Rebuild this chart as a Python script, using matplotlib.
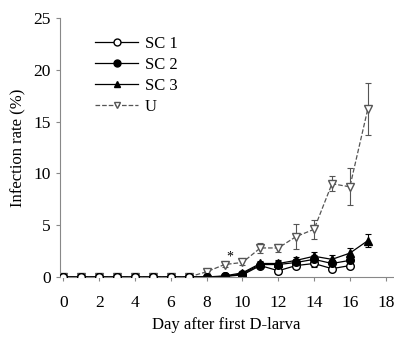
import matplotlib
matplotlib.use("Agg")
import matplotlib.pyplot as plt
from matplotlib.lines import Line2D

days = list(range(0, 18))
days_sc = list(range(0, 17))

sc1 = [0, 0, 0, 0, 0, 0, 0, 0, 0, 0.05, 0.2, 1.1, 0.6, 1.1, 1.3, 0.8, 1.1]
sc1_err = [0, 0, 0, 0, 0, 0, 0, 0, 0, 0, 0.1, 0.2, 0.3, 0.2, 0.3, 0.2, 0.2]
sc2 = [0, 0, 0, 0, 0, 0, 0, 0, 0, 0.05, 0.3, 1.2, 1.2, 1.4, 1.7, 1.3, 1.6]
sc2_err = [0, 0, 0, 0, 0, 0, 0, 0, 0, 0, 0.1, 0.2, 0.3, 0.3, 0.4, 0.3, 0.3]
sc3 = [0, 0, 0, 0, 0, 0, 0, 0, 0, 0.1, 0.4, 1.3, 1.3, 1.6, 2.0, 1.7, 2.3, 3.5]
sc3_err = [0, 0, 0, 0, 0, 0, 0, 0, 0, 0, 0.1, 0.2, 0.3, 0.3, 0.4, 0.4, 0.5, 0.6]
u = [0, 0, 0, 0, 0, 0, 0, 0, 0.5, 1.2, 1.4, 2.8, 2.8, 3.9, 4.6, 9.0, 8.7, 16.2]
u_err = [0, 0, 0, 0, 0, 0, 0, 0, 0.1, 0.2, 0.2, 0.5, 0.4, 1.2, 0.9, 0.7, 1.8, 2.5]

star_day, star_y = 9.3, 1.9

plt.rcParams["font.family"] = ["Liberation Serif", "DejaVu Serif"]

fig = plt.figure(figsize=(3.94, 3.39), dpi=100)
ax = fig.add_axes([0.152, 0.183, 0.845, 0.764])

grey = "#555555"
common = dict(ms=5.5, lw=0.9, capsize=2.5, elinewidth=0.8, capthick=0.8)
ax.errorbar(days, u, yerr=u_err, fmt="--v", mfc="white", mec=grey, color=grey, **common)
ax.errorbar(days, sc3, yerr=sc3_err, fmt="-^", mfc="black", color="black", **common)
ax.errorbar(days_sc, sc2, yerr=sc2_err, fmt="-o", mfc="black", color="black", **common)
ax.errorbar(days_sc[:8], sc1[:8], fmt="-o", mfc="white", color="black", zorder=4, ms=5.5, lw=0.9)
ax.errorbar(days_sc[7:], sc1[7:], yerr=sc1_err[7:], fmt="-o", mfc="white", color="black",
            zorder=1.9, **common)
ax.text(star_day, star_y, "*", ha="center", va="center", fontsize=10)

ax.set_xlim(-0.2, 18.4)
ax.set_ylim(0, 25)
ax.set_xticks(range(0, 19, 2))
ax.set_yticks(range(0, 26, 5))
ax.spines["top"].set_visible(False)
ax.spines["right"].set_visible(False)
for s in ("left", "bottom"):
    ax.spines[s].set_color("#888888")
ax.tick_params(colors="#888888", labelcolor="black", labelsize=12.5, length=3)
ax.tick_params(axis="x", pad=10)
ax.set_xlabel("Day after first D-larva", fontsize=12, labelpad=4)
ax.set_ylabel("Infection rate (%)", fontsize=12, labelpad=5)

handles = [
    Line2D([], [], color="black", marker="o", mfc="white", ms=5, lw=0.9),
    Line2D([], [], color="black", marker="o", mfc="black", ms=5, lw=0.9),
    Line2D([], [], color="black", marker="^", mfc="black", ms=5, lw=0.9),
    Line2D([], [], color=grey, ls="--", marker="v", mfc="white", ms=5, lw=0.9),
]
ax.legend(handles, ["SC 1", "SC 2", "SC 3", "U"], loc="upper left",
          bbox_to_anchor=(0.06, 0.99), frameon=False, fontsize=12,
          handlelength=2.6, labelspacing=0.3, handletextpad=0.4)

fig.savefig("out.png", dpi=100)
